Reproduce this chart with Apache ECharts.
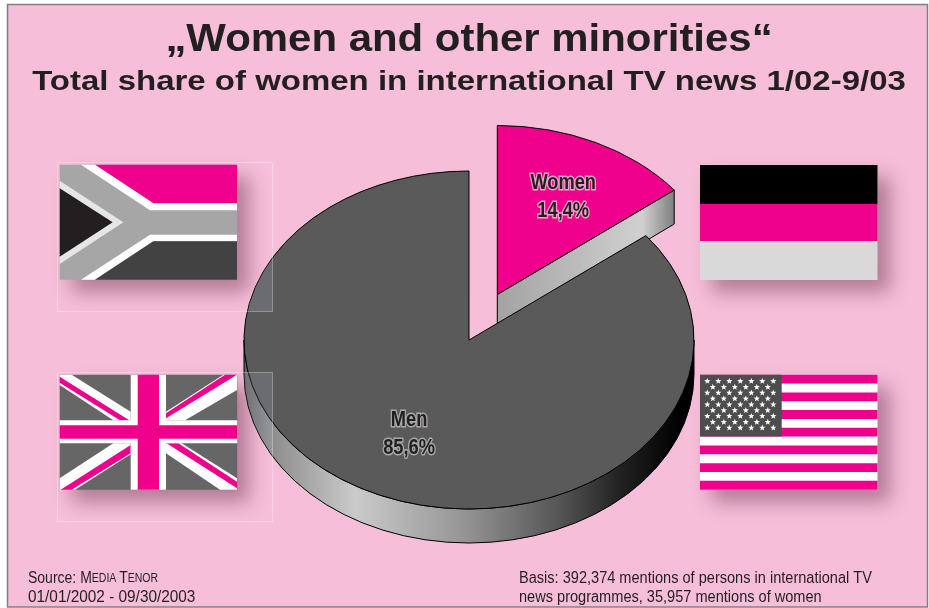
<!DOCTYPE html>
<html>
<head>
<meta charset="utf-8">
<style>html,body{margin:0;padding:0;background:#fff}#chart{width:929px;height:608px}</style>
<script src="https://cdn.jsdelivr.net/npm/echarts@6/dist/echarts.min.js"></script>
</head>
<body>
<div id="chart"></div>
<script>
// Share of mentions by gender
const sliceNames = ['Women', 'Men'];
const shareValues = [14.4, 85.6];

const titleText = '„Women and other minorities“';
const subtitleText = 'Total share of women in international TV news 1/02-9/03';
const basisLines = ['Basis: 392,374 mentions of persons in international TV', 'news programmes, 35,957 mentions of women'];
const periodLine = '01/01/2002 - 09/30/2003';

const INK = '#231f20', PINK = '#ee008c', PAPER = '#f6bed8';
const SANS = '"Liberation Sans",Arial,sans-serif';

// Tilted pie geometry
const pie = {cx: 469, cy: 340, rx: 225, ry: 169, depth: 34, explode: {Women: [28.3, -45.5]}};
const pt = (t, c, dy) => {
  const a = t * Math.PI / 180;
  return [c[0] + pie.rx * Math.sin(a), c[1] - pie.ry * Math.cos(a) + (dy || 0)];
};
const fmt = p => p[0].toFixed(2) + ' ' + p[1].toFixed(2);
const grad = (x0, x1, stops) => new echarts.graphic.LinearGradient(x0, 0, x1, 0,
  stops.map(s => ({offset: s[0], color: s[1]})), true);

const rimStops = [[0, '#5e5e5e'], [0.06, '#8c8c8c'], [0.247, '#cacaca'], [0.48, '#979797'],
  [0.7, '#555555'], [0.835, '#222222'], [0.97, '#000000'], [1, '#000000']];
const cutStops = [[0, '#a3a3a3'], [0.82, '#d0d0d0'], [1, '#7f7f7f']];
const faceColors = {Women: PINK, Men: '#5a5a5a'};
const haloColors = {Women: '#f4a0cb', Men: '#a9a9a9'};
const labelReach = {Women: 0.66, Men: 0.62};
const labelShift = {Women: 3, Men: 0};

function rimPath(c, from, to) {
  const a = Math.max(from, 90), b = Math.min(to, 270);
  if (b <= a) return null;
  return 'M' + fmt(pt(a, c)) + ' A' + pie.rx + ' ' + pie.ry + ' 0 0 1 ' + fmt(pt(b, c)) +
    ' L' + fmt(pt(b, c, pie.depth)) + ' A' + pie.rx + ' ' + pie.ry + ' 0 0 0 ' + fmt(pt(a, c, pie.depth)) + ' Z';
}

function renderSlice(params, api) {
  const idx = params.dataIndex, name = sliceNames[idx];
  const total = shareValues.reduce((s, v) => s + v, 0);
  const before = shareValues.slice(0, idx).reduce((s, v) => s + v, 0);
  const from = before / total * 360, to = (before + api.value(0)) / total * 360;
  const off = pie.explode[name] || [0, 0];
  const c = [pie.cx + off[0], pie.cy + off[1]];
  const line = {stroke: '#000', lineWidth: 1};
  const children = [];

  // Side wall along the cut edge, when it faces the viewer
  if (to < 180) {
    const e = pt(to, c);
    children.push({type: 'path', shape: {pathData:
      'M' + fmt(c) + ' L' + fmt(e) + ' L' + fmt(pt(to, c, pie.depth)) + ' L' + c[0] + ' ' + (c[1] + pie.depth) + ' Z'},
      style: Object.assign({fill: grad(c[0], e[0], cutStops)}, line)});
  }
  // Outer rim
  const rim = rimPath(c, from, to);
  if (rim) children.push({type: 'path', shape: {pathData: rim},
    style: Object.assign({fill: grad(pie.cx - pie.rx, pie.cx + pie.rx, rimStops)}, line)});
  // Top face
  const large = to - from > 180 ? 1 : 0;
  children.push({type: 'path', shape: {pathData:
    'M' + fmt(c) + ' L' + fmt(pt(from, c)) + ' A' + pie.rx + ' ' + pie.ry + ' 0 ' + large + ' 1 ' + fmt(pt(to, c)) + ' Z'},
    style: Object.assign({fill: faceColors[name]}, line)});

  // Pale wash where the flag frames cross the pie
  if (name === 'Men') {
    const outline = 'M' + fmt(pt(from, c)) + ' A' + pie.rx + ' ' + pie.ry + ' 0 1 1 ' + fmt(pt(to, c)) + ' L' + fmt(c) + ' Z ' + (rim || '');
    frames.forEach(f => children.push({type: 'path', shape: {pathData: outline},
      clipPath: {type: 'rect', shape: {x: f[0], y: f[1], width: f[2], height: f[3]}},
      style: {fill: 'rgba(195,205,225,0.16)', stroke: 'none'}}));
  }

  // Name and percentage, placed on the slice's middle angle
  const mid = (from + to) / 2 * Math.PI / 180, reach = labelReach[name];
  const lx = c[0] + pie.rx * reach * Math.sin(mid) + 1;
  const ly = c[1] - pie.ry * reach * Math.cos(mid) + labelShift[name];
  const labelStyle = text => ({text: text, align: 'center', verticalAlign: 'middle',
    font: 'bold 22px ' + SANS, fill: INK, stroke: haloColors[name], lineWidth: 3});
  children.push({type: 'text', x: lx, y: ly - 14, scaleX: 0.83, style: labelStyle(name)});
  children.push({type: 'text', x: lx, y: ly + 14, scaleX: 0.83, style: labelStyle(api.value(0).toFixed(1).replace('.', ',') + '%')});
  return {type: 'group', children: children};
}

// Flags: each base rectangle carries the soft drop shadow
const shadow = {shadowColor: 'rgba(85,30,60,0.42)', shadowBlur: 18, shadowOffsetX: 12, shadowOffsetY: 12};
const frames = [[57.5, 162.5, 215, 149], [57.5, 372.5, 215, 149]];
const Z = {z: 1};

function flagBase(x, y, fill) {
  return Object.assign({type: 'rect', shape: {x: x, y: y, width: 177.5, height: 115}, style: Object.assign({fill: fill}, shadow)}, Z);
}
function polys(ox, oy, fill, list) {
  return list.map(p => Object.assign({type: 'polygon',
    shape: {points: p.map(q => [ox + q[0] / 3, oy + q[1] / 3])}, style: {fill: fill}}, Z));
}
function bar(x, y, w, h, fill) {
  return Object.assign({type: 'rect', shape: {x: x, y: y, width: w, height: h}, style: {fill: fill}}, Z);
}

function southAfrica() {
  const o = [40, 150];
  return [flagBase(59.7, 164.7, '#a6a6a6')]
    .concat(polys(o[0], o[1], PINK, [[[165, 44], [591, 44], [591, 160], [340, 160]]]))
    .concat(polys(o[0], o[1], '#ffffff', [
      [[123, 44], [165, 44], [340, 160], [591, 160], [591, 181], [330, 181]],
      [[330, 254], [591, 254], [591, 274], [340, 274], [165, 389], [123, 389]]]))
    .concat(polys(o[0], o[1], '#424242', [[[165, 389], [340, 274], [591, 274], [591, 389]]]))
    .concat(polys(o[0], o[1], '#e6e6e6', [[[59, 92], [250, 217], [59, 342]]]))
    .concat(polys(o[0], o[1], INK, [[[59, 115], [218, 217], [59, 320]]]));
}

function unionJack() {
  const o = [40, 360];
  return [flagBase(59.7, 374.7, '#666666')]
    .concat(polys(o[0], o[1], '#ffffff', [
      [[59, 44], [95, 44], [272, 155], [272, 181], [220, 181], [59, 75]],
      [[378, 155], [550, 44], [591, 44], [591, 90], [435, 181], [378, 181]],
      [[378, 250], [425, 250], [591, 355], [591, 389], [540, 389], [378, 280]],
      [[272, 250], [272, 283], [105, 389], [59, 389], [59, 355], [220, 250]]]))
    .concat(polys(o[0], o[1], PINK, [
      [[59, 50], [268, 181], [240, 181], [59, 68]],
      [[378, 160], [555, 44], [591, 44], [378, 175]],
      [[380, 250], [415, 250], [591, 365], [591, 385]],
      [[272, 255], [272, 280], [95, 389], [62, 389]]]))
    .concat([
      bar(130.7, 374.7, 35.3, 115, '#ffffff'),
      bar(59.7, 420.3, 177.5, 23, '#ffffff'),
      bar(137.7, 374.7, 21.3, 115, PINK),
      bar(59.7, 425.3, 177.5, 13.4, PINK)]);
}

function germany() {
  return [flagBase(700, 165, '#d9d9d9'), bar(700, 165, 177.5, 39, '#000000'), bar(700, 204, 177.5, 37, PINK)];
}

function starPoints(x, y, r) {
  const pts = [];
  for (let i = 0; i < 10; i++) {
    const a = i * Math.PI / 5 - Math.PI / 2, q = i % 2 ? r * 0.42 : r;
    pts.push([x + q * Math.cos(a), y + q * Math.sin(a)]);
  }
  return pts;
}

function starsAndStripes() {
  const x = 700, y = 374.7, w = 177.5, band = 115 / 13;
  const els = [flagBase(x, y, '#ffffff')];
  for (let i = 0; i < 13; i += 2) els.push(bar(x, y + i * band, w, band, PINK));
  els.push(bar(x, y, 81.7, 7 * band, '#4d4d4d'));
  for (let row = 0; row < 9; row++) {
    const odd = row % 2 === 1, n = odd ? 6 : 7;
    for (let col = 0; col < n; col++) {
      els.push(Object.assign({type: 'polygon',
        shape: {points: starPoints(x + 7.3 + (odd ? 5.5 : 0) + col * 11, y + 6.5 + row * 5.83, 3.3)},
        style: {fill: '#ffffff'}}, Z));
    }
  }
  return els;
}

const textEl = (x, y, scaleX, style) => ({type: 'text', x: x, y: y, scaleX: scaleX, z: 20,
  style: Object.assign({fill: INK}, style)});

const graphicEls = [
  // Page panel
  {type: 'rect', z: 0, shape: {x: 7.5, y: 4.5, width: 920, height: 602.5},
    style: {fill: PAPER, stroke: '#808080', lineWidth: 1.5}},
  ...southAfrica(), ...unionJack(), ...germany(), ...starsAndStripes(),
  // Thin frames around the left-hand flags
  ...frames.map(f => ({type: 'rect', z: 20, shape: {x: f[0], y: f[1], width: f[2], height: f[3]},
    style: {fill: 'none', stroke: 'rgba(255,255,255,0.3)', lineWidth: 1}})),
  textEl(469, 21, 1.075, {text: titleText, align: 'center', font: 'bold 39px ' + SANS}),
  textEl(469, 68.5, 1.178, {text: subtitleText, align: 'center', font: 'bold 28px ' + SANS}),
  textEl(28, 570.5, 0.875, {text: '{a|Source: M}{b|EDIA} {a|T}{b|ENOR}', align: 'left',
    rich: {a: {font: '16px ' + SANS, fill: INK}, b: {font: '12px ' + SANS, fill: INK}}}),
  textEl(28, 590, 0.96, {text: periodLine, align: 'left', font: '16px ' + SANS}),
  textEl(519, 570.5, 0.91, {text: basisLines[0], align: 'left', font: '16px ' + SANS}),
  textEl(519, 590, 0.91, {text: basisLines[1], align: 'left', font: '16px ' + SANS})
];

const chart = echarts.init(document.getElementById('chart'));
chart.setOption({
  backgroundColor: '#ffffff',
  animation: false,
  graphic: {elements: graphicEls},
  series: [{
    type: 'custom',
    coordinateSystem: 'none',
    renderItem: renderSlice,
    z: 10,
    data: shareValues.map((v, i) => ({name: sliceNames[i], value: [v]}))
  }]
});
</script>
</body>
</html>
